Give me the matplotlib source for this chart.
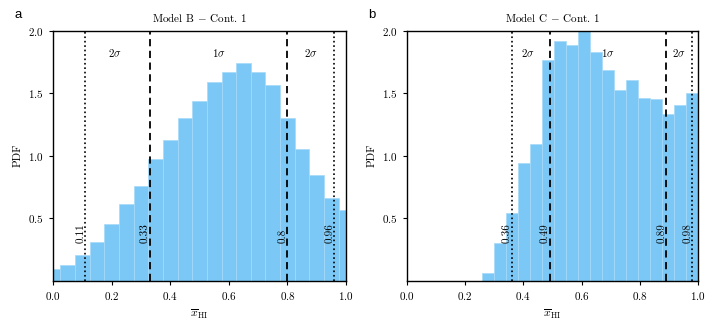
import numpy as np
import matplotlib
matplotlib.use("Agg")
import matplotlib.pyplot as plt

plt.rcParams['font.family'] = 'serif'
plt.rcParams['font.serif'] = ['cmr10', 'DejaVu Serif']
plt.rcParams['mathtext.fontset'] = 'cm'
plt.rcParams['axes.formatter.use_mathtext'] = True

# panel a: model B, bins of width 0.05 centred on 0.00 ... 1.00
b_centers = [0.00, 0.05, 0.10, 0.15, 0.20, 0.25, 0.30, 0.35, 0.40, 0.45, 0.50,
             0.55, 0.60, 0.65, 0.70, 0.75, 0.80, 0.85, 0.90, 0.95, 1.00]
b_pdf = [0.098, 0.125, 0.205, 0.311, 0.452, 0.614, 0.758, 0.971, 1.128, 1.298, 1.434,
         1.593, 1.668, 1.739, 1.668, 1.566, 1.303, 1.053, 0.843, 0.665, 0.564]
b_dotted = [0.11, 0.96]
b_dashed = [0.33, 0.8]

# panel b: model C, 18 bins between 0.259 and 1.0
c_edges = np.linspace(0.259, 1.0, 19)
c_pdf = [0.066, 0.30, 0.543, 0.939, 1.098, 1.769, 1.920, 1.888, 2.02,
         1.827, 1.689, 1.529, 1.604, 1.465, 1.455, 1.330, 1.407, 1.503]
c_dotted = [0.36, 0.98]
c_dashed = [0.49, 0.89]

bar_color = '#7bc8f6'
fs = 8

fig = plt.figure(figsize=(7.21, 3.30), dpi=100)
ax1 = fig.add_axes([0.0735, 0.149, 0.4065, 0.758])
ax2 = fig.add_axes([0.564, 0.149, 0.4045, 0.758])


def panel(ax, left, widths, heights, dotted, dashed, title):
    ax.bar(left, heights, width=widths, align='edge', color=bar_color,
           edgecolor='#a6d9f8', linewidth=0.5)
    for v in dotted:
        ax.axvline(v, color='k', ls=':', lw=1.2)
    for v in dashed:
        ax.axvline(v, color='k', ls='--', lw=1.3, dashes=(4, 2.5))
    for v in dotted + dashed:
        lab = ('%.2f' % v).rstrip('0')
        ax.text(v, 0.3, lab, rotation=90, ha='right', va='bottom', fontsize=fs)
    lo, hi = sorted(dotted)
    dl, dh = sorted(dashed)
    ax.text((lo + dl) / 2 - 0.01, 1.82, r'$2\sigma$', ha='center', va='center', fontsize=fs)
    ax.text((dl + dh) / 2, 1.82, r'$1\sigma$', ha='center', va='center', fontsize=fs)
    ax.text((dh + hi) / 2, 1.82, r'$2\sigma$', ha='center', va='center', fontsize=fs)
    ax.set_xlim(0, 1)
    ax.set_ylim(0, 2)
    ax.set_yticks([0.5, 1.0, 1.5, 2.0])
    ax.set_xticks([0, 0.2, 0.4, 0.6, 0.8, 1.0])
    ax.tick_params(labelsize=fs, length=3, width=0.8)
    ax.set_xlabel(r'$\overline{x}_{\rm HI}$', fontsize=8.5)
    ax.set_ylabel('PDF', fontsize=fs)
    ax.set_title(title, fontsize=fs, pad=6)
    for s in ax.spines.values():
        s.set_linewidth(1.0)


panel(ax1, np.array(b_centers) - 0.025, 0.05, b_pdf, b_dotted, b_dashed,
      r'Model B $-$ Cont. 1')
panel(ax2, c_edges[:-1], np.diff(c_edges), c_pdf, c_dotted, c_dashed,
      r'Model C $-$ Cont. 1')

fig.text(18 / 721, 1 - 15 / 330, 'a', family='Liberation Sans', fontsize=9.5,
         ha='center', va='center')
fig.text(372 / 721, 1 - 15 / 330, 'b', family='Liberation Sans', fontsize=9.5,
         ha='center', va='center')

fig.savefig('out.png', dpi=100)
